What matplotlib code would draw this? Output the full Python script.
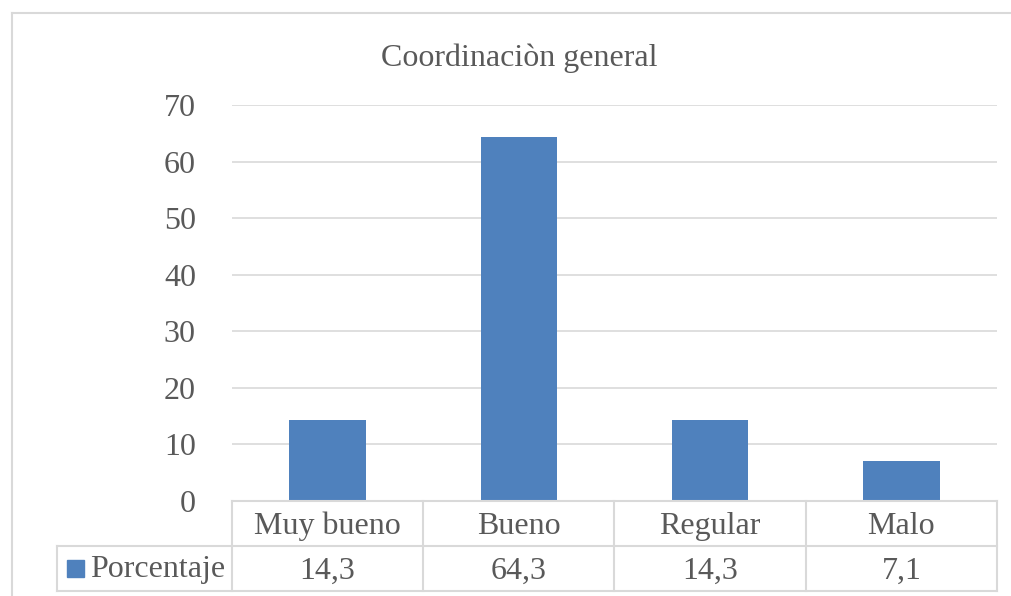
import numpy as np
import matplotlib.pyplot as plt

# data
categorias = ['Muy bueno', 'Bueno', 'Regular', 'Malo']
porcentaje = [14.3, 64.3, 14.3, 7.1]
etiquetas = ['14,3', '64,3', '14,3', '7,1']
serie = 'Porcentaje'
titulo = 'Coordinaciòn general'

W, H = 1012, 596
azul = '#4f81bd'
gris = '#d9d9d9'
texto = '#595959'
fs = 23

plt.rcParams['font.family'] = ['Liberation Serif', 'DejaVu Serif']

fig = plt.figure(figsize=(W / 100, H / 100), dpi=100)

# chart border (light gray)
fig.add_artist(plt.Line2D([12 / W, 12 / W], [0, 1 - 13 / H], transform=fig.transFigure, color=gris, lw=1.5))
fig.add_artist(plt.Line2D([12 / W, 1], [1 - 13 / H, 1 - 13 / H], transform=fig.transFigure, color=gris, lw=1.5))

# plot area
ax = fig.add_axes([232 / W, 1 - 501 / H, 765 / W, 396 / H])
x = np.arange(len(categorias))
ax.bar(x, porcentaje, width=0.4, color=azul, zorder=3)
ax.set_xlim(-0.5, len(categorias) - 0.5)
ax.set_ylim(0, 70)
ax.set_yticks(range(0, 71, 10))
ax.set_xticks([])
ax.grid(axis='y', color=gris, lw=1.2, zorder=0)
for s in ax.spines.values():
    s.set_visible(False)
ax.tick_params(axis='y', length=0, pad=26, labelsize=fs, labelcolor=texto)

fig.text(519 / W, 1 - 58 / H, titulo, ha='center', va='center', fontsize=fs, color=texto)

# data table
unit = 765 / len(categorias)
left = -0.5 - (232 - 57) / unit
tx = fig.add_axes([57 / W, 1 - 591 / H, 940 / W, 90 / H])
tx.set_xlim(left, len(categorias) - 0.5)
tx.set_ylim(0, 2)
tx.axis('off')
n = len(categorias)
tx.plot([-0.5, n - 0.5], [2, 2], color=gris, lw=1.5, clip_on=False)
tx.plot([left, n - 0.5], [1, 1], color=gris, lw=1.5, clip_on=False)
tx.plot([left, n - 0.5], [0, 0], color=gris, lw=1.5, clip_on=False)
for xv in np.arange(-0.5, n, 1.0):
    tx.plot([xv, xv], [0, 2], color=gris, lw=1.5, clip_on=False)
tx.plot([left, left], [0, 1], color=gris, lw=1.5, clip_on=False)

for i, c in enumerate(categorias):
    tx.text(i, 1.44, c, ha='center', va='center', fontsize=fs, color=texto)
    tx.text(i, 0.44, etiquetas[i], ha='center', va='center', fontsize=fs, color=texto)

# legend key
fig.add_artist(plt.Rectangle((67 / W, 1 - 577 / H), 17 / W, 17 / H, transform=fig.transFigure, color=azul))
fig.text(90 / W, 1 - 570 / H, serie, ha='left', va='center', fontsize=fs, color=texto)

fig.savefig('out.png', dpi=100)
